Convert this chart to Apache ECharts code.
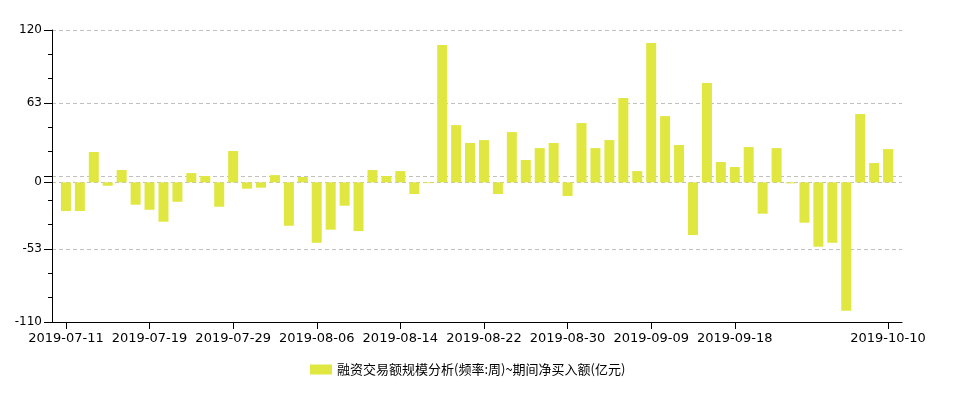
<!DOCTYPE html>
<html>
<head>
<meta charset="utf-8">
<script src="https://cdn.jsdelivr.net/npm/echarts@6/dist/echarts.min.js"></script>
<style>
  html, body { margin: 0; padding: 0; background: #fff; }
  #chart { width: 960px; height: 394px; }
</style>
</head>
<body>
<div id="chart"></div>
<script>
// Trading days (categories)
const dates = [
  '2019-07-11','2019-07-12','2019-07-15','2019-07-16','2019-07-17','2019-07-18','2019-07-19',
  '2019-07-22','2019-07-23','2019-07-24','2019-07-25','2019-07-26','2019-07-29','2019-07-30','2019-07-31',
  '2019-08-01','2019-08-02','2019-08-05','2019-08-06','2019-08-07','2019-08-08','2019-08-09',
  '2019-08-12','2019-08-13','2019-08-14','2019-08-15','2019-08-16','2019-08-19','2019-08-20','2019-08-21',
  '2019-08-22','2019-08-23','2019-08-26','2019-08-27','2019-08-28','2019-08-29','2019-08-30',
  '2019-09-02','2019-09-03','2019-09-04','2019-09-05','2019-09-06','2019-09-09','2019-09-10','2019-09-11',
  '2019-09-12','2019-09-16','2019-09-17','2019-09-18','2019-09-19','2019-09-20','2019-09-23','2019-09-24',
  '2019-09-25','2019-09-26','2019-09-27','2019-09-30','2019-10-08','2019-10-09','2019-10-10'
];

// 期间净买入额(亿元)
const netBuy = [
  -22.6, -22.6, 23.9, -2.7, 9.7, -17.6, -21.6,
  -31.0, -15.3, 7.3, 5.0, -19.2, 24.7, -5.0, -4.2,
  5.7, -34.2, 4.2, -47.6, -37.3, -18.4, -38.4,
  9.7, 5.0, 8.9, -9.2, -0.6, 108.1, 45.1, 31.0,
  33.3, -9.2, 39.6, 17.6, 27.0, 31.0, -10.8,
  46.7, 27.0, 33.3, 66.4, 8.9, 109.7, 52.2, 29.4,
  -41.5, 78.2, 16.0, 12.1, 27.8, -24.7, 27.0, -0.8,
  -31.8, -50.7, -47.6, -101.1, 53.8, 15.2, 26.2
];

// x-axis labels shown
const shownDates = ['2019-07-11','2019-07-19','2019-07-29','2019-08-06','2019-08-14',
  '2019-08-22','2019-08-30','2019-09-09','2019-09-18','2019-10-10'];

// y-axis ticks and labels
const yMin = -110, yMax = 120;
const yLabelValues = [120, 62.5, 0, -52.5, -110];
const yLabelTexts  = ['120', '63', '0', '-53', '-110'];
const yMajorTicks  = [120, 62.5, 5, 0, -52.5, -110];
const yMinorTicks  = [100.8333, 81.6667, 43.3333, 24.1667, -14.1667, -33.3333, -71.6667, -90.8333];

const seriesName = '融资交易额规模分析(频率:周)~期间净买入额(亿元)';

const cats = [''].concat(dates, ['']);
const vals = [null].concat(netBuy, [null]);

const chart = echarts.init(document.getElementById('chart'), null, { renderer: 'canvas' });
const axisFont = 'DejaVu Sans';
chart.setOption({
  animation: false,
  backgroundColor: '#ffffff',
  grid: { left: 52, right: 58, top: 30, bottom: 72, containLabel: false },
  legend: {
    data: [seriesName],
    left: 305, top: 358,
    itemWidth: 22, itemHeight: 10, itemGap: 10,
    icon: 'rect',
    textStyle: { fontFamily: 'Noto Sans CJK SC', fontSize: 13, color: '#000' }
  },
  xAxis: {
    type: 'category',
    data: cats,
    boundaryGap: false,
    axisLine: { onZero: false, lineStyle: { color: '#000', width: 1 } },
    axisTick: {
      length: 7,
      interval: (i, v) => shownDates.indexOf(v) >= 0,
      lineStyle: { color: '#000' }
    },
    axisLabel: {
      interval: (i, v) => shownDates.indexOf(v) >= 0,
      margin: 10,
      fontFamily: axisFont, fontSize: 13, color: '#000'
    },
    splitLine: { show: false }
  },
  yAxis: [
    {
      type: 'value', position: 'left', min: yMin, max: yMax,
      axisLine: { show: true, lineStyle: { color: '#000' } },
      axisTick: { show: true, length: 8, customValues: yMajorTicks, lineStyle: { color: '#000' } },
      axisLabel: {
        customValues: yLabelValues,
        margin: 10,
        fontFamily: axisFont, fontSize: 12, color: '#000',
        formatter: (v) => {
          const i = yLabelValues.findIndex(x => Math.abs(x - v) < 1e-6);
          return i >= 0 ? yLabelTexts[i] : '';
        }
      },
      splitLine: { show: true, lineStyle: { color: '#c0c0c0', type: [4, 3], width: 1 } }
    },
    {
      type: 'value', position: 'left', min: yMin, max: yMax,
      axisLine: { show: false },
      axisTick: { show: true, length: 4, customValues: yMinorTicks, lineStyle: { color: '#000' } },
      axisLabel: { show: false },
      splitLine: { show: false }
    }
  ],
  series: [{
    name: seriesName,
    type: 'bar',
    data: vals,
    barWidth: 10,
    itemStyle: { color: '#E0E741' },
    yAxisIndex: 0
  }]
});
</script>
</body>
</html>
